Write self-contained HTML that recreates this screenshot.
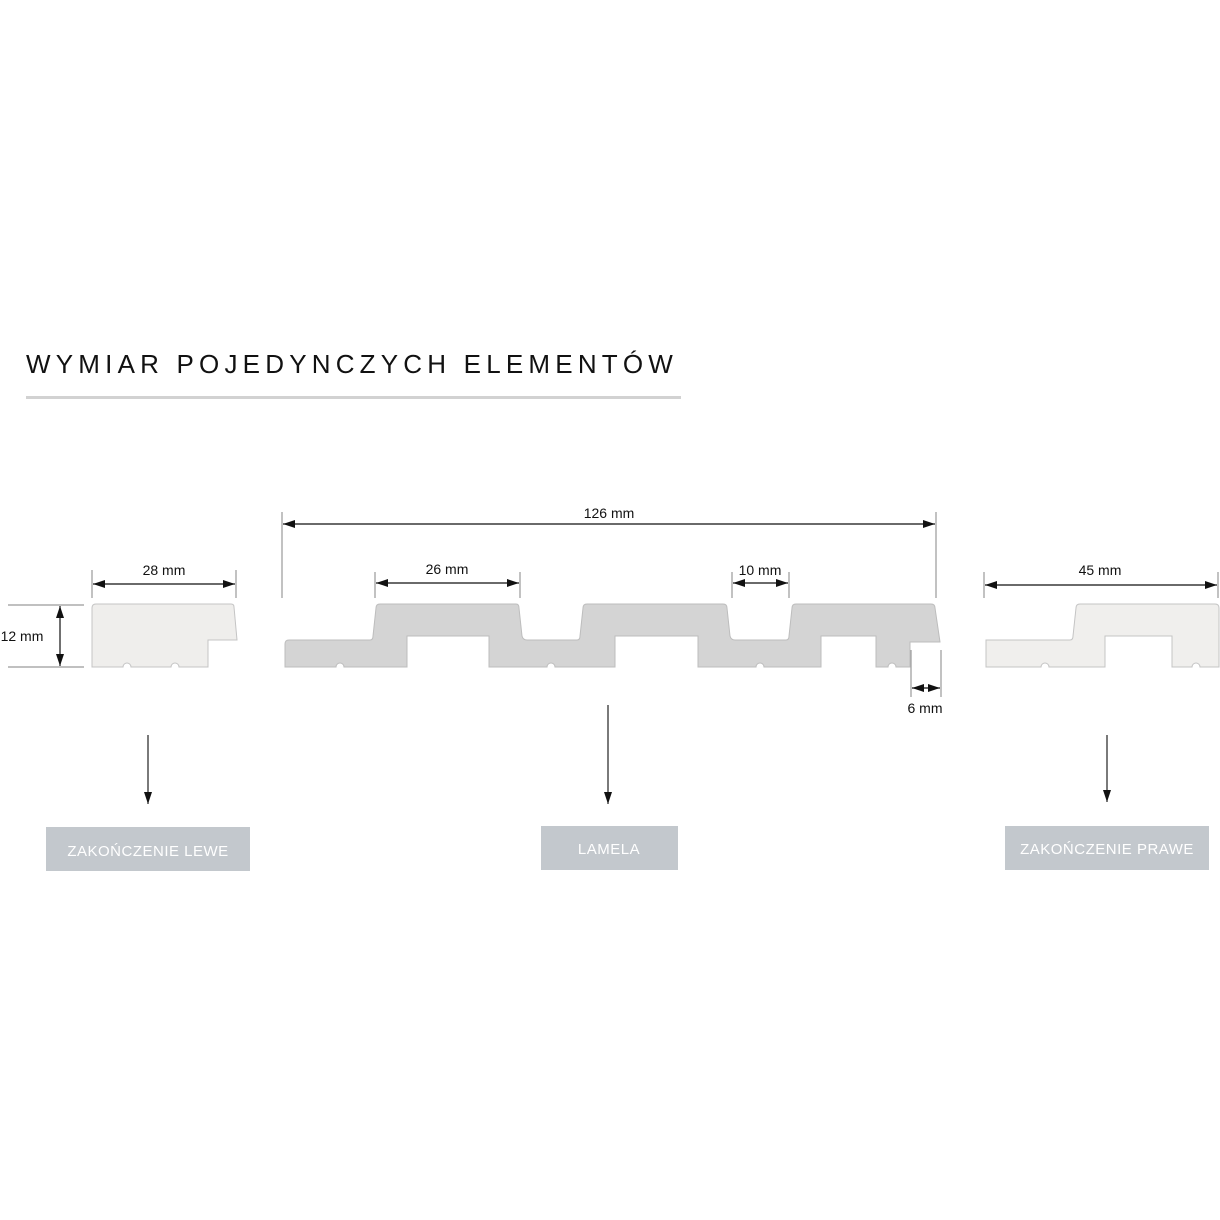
<!DOCTYPE html>
<html><head><meta charset="utf-8"><style>
html,body{margin:0;padding:0;background:#fff;width:1220px;height:1220px;overflow:hidden}
svg{display:block}
text{font-family:"Liberation Sans","DejaVu Sans",sans-serif}
</style></head><body>
<svg width="1220" height="1220" viewBox="0 0 1220 1220" xmlns="http://www.w3.org/2000/svg">
<defs>
<marker id="a" viewBox="0 0 12 8" refX="12" refY="4" markerWidth="12" markerHeight="8" markerUnits="userSpaceOnUse" orient="auto-start-reverse"><path d="M0,0 L12,4 L0,8 Z" fill="#111"/></marker>
</defs>
<text x="26" y="373" font-size="26" letter-spacing="5.2" fill="#111">WYMIAR POJEDYNCZYCH ELEMENTÓW</text>
<rect x="26" y="396" width="655" height="3" fill="#d2d2d2"/>

<g stroke="#9a9a9a" stroke-width="1.2">
<line x1="282" y1="512" x2="282" y2="598"/><line x1="936" y1="512" x2="936" y2="598"/>
<line x1="92" y1="570" x2="92" y2="598"/><line x1="236" y1="570" x2="236" y2="598"/>
<line x1="375" y1="572" x2="375" y2="598"/><line x1="520" y1="572" x2="520" y2="598"/>
<line x1="732" y1="572" x2="732" y2="598"/><line x1="789" y1="572" x2="789" y2="598"/>
<line x1="984" y1="572" x2="984" y2="598"/><line x1="1218" y1="572" x2="1218" y2="598"/>
<line x1="8" y1="605" x2="84" y2="605"/><line x1="8" y1="667" x2="84" y2="667"/>
<line x1="911" y1="650" x2="911" y2="697"/><line x1="941" y1="650" x2="941" y2="697"/>
</g>
<g stroke="#111" stroke-width="1.2" marker-start="url(#a)" marker-end="url(#a)">
<line x1="283" y1="524" x2="935" y2="524"/>
<line x1="93" y1="584" x2="235" y2="584"/>
<line x1="376" y1="583" x2="519" y2="583"/>
<line x1="733" y1="583" x2="788" y2="583"/>
<line x1="985" y1="585" x2="1217" y2="585"/>
<line x1="60" y1="606" x2="60" y2="666"/>
<line x1="912" y1="688" x2="940" y2="688"/>
</g>
<g font-size="14" fill="#111" text-anchor="middle">
<text x="609" y="518">126 mm</text>
<text x="164" y="575">28 mm</text>
<text x="447" y="574">26 mm</text>
<text x="760" y="575">10 mm</text>
<text x="1100" y="575">45 mm</text>
<text x="22" y="641">12 mm</text>
<text x="925" y="713">6 mm</text>
</g>

<path d="M92,608 Q92,604 96,604 L231,604 Q234,604 234,607 L237,640 L208,640 L208,667 L179,667 A4 4 0 0 0 171,667 L131,667 A4 4 0 0 0 123,667 L92,667 Z" fill="#efeeec" stroke="#c4c4c4" stroke-width="1"/>
<path d="M285,644 Q285,640 289,640 L370,640 Q373,640 373,636 L376,608 Q376,604 380,604 L516,604 Q519,604 519,608 L522,636 Q523,640 527,640 L577,640 Q580,640 580,636 L583,608 Q583,604 587,604 L723,604 Q727,604 727,608 L730,636 Q731,640 735,640 L786,640 Q789,640 789,636 L792,608 Q792,604 796,604 L931,604 Q935,604 935,608 L940,642 L910,642 L910,667 L896,667 A4 4 0 0 0 888,667 L876,667 L876,636 L821,636 L821,667 L764,667 A4 4 0 0 0 756,667 L698,667 L698,636 L615,636 L615,667 L555,667 A4 4 0 0 0 547,667 L489,667 L489,636 L407,636 L407,667 L344,667 A4 4 0 0 0 336,667 L285,667 Z" fill="#d4d4d4" stroke="#bdbdbd" stroke-width="1"/>
<path d="M986,640 L1070,640 Q1073,640 1073,636 L1076,608 Q1076,604 1080,604 L1215,604 Q1219,604 1219,608 L1219,667 L1200,667 A4 4 0 0 0 1192,667 L1172,667 L1172,636 L1105,636 L1105,667 L1049,667 A4 4 0 0 0 1041,667 L986,667 Z" fill="#f0efed" stroke="#c4c4c4" stroke-width="1"/>

<g stroke="#222" stroke-width="1.2" marker-end="url(#a)">
<line x1="148" y1="735" x2="148" y2="804"/>
<line x1="608" y1="705" x2="608" y2="804"/>
<line x1="1107" y1="735" x2="1107" y2="802"/>
</g>
<rect x="46" y="827" width="204" height="44" fill="#c3c8cd"/>
<rect x="541" y="826" width="137" height="44" fill="#c3c8cd"/>
<rect x="1005" y="826" width="204" height="44" fill="#c3c8cd"/>
<g font-size="15" fill="#fff" text-anchor="middle" letter-spacing="0.5">
<text x="148" y="856">ZAKOŃCZENIE LEWE</text>
<text x="609" y="854">LAMELA</text>
<text x="1107" y="854">ZAKOŃCZENIE PRAWE</text>
</g>
</svg>
</body></html>
